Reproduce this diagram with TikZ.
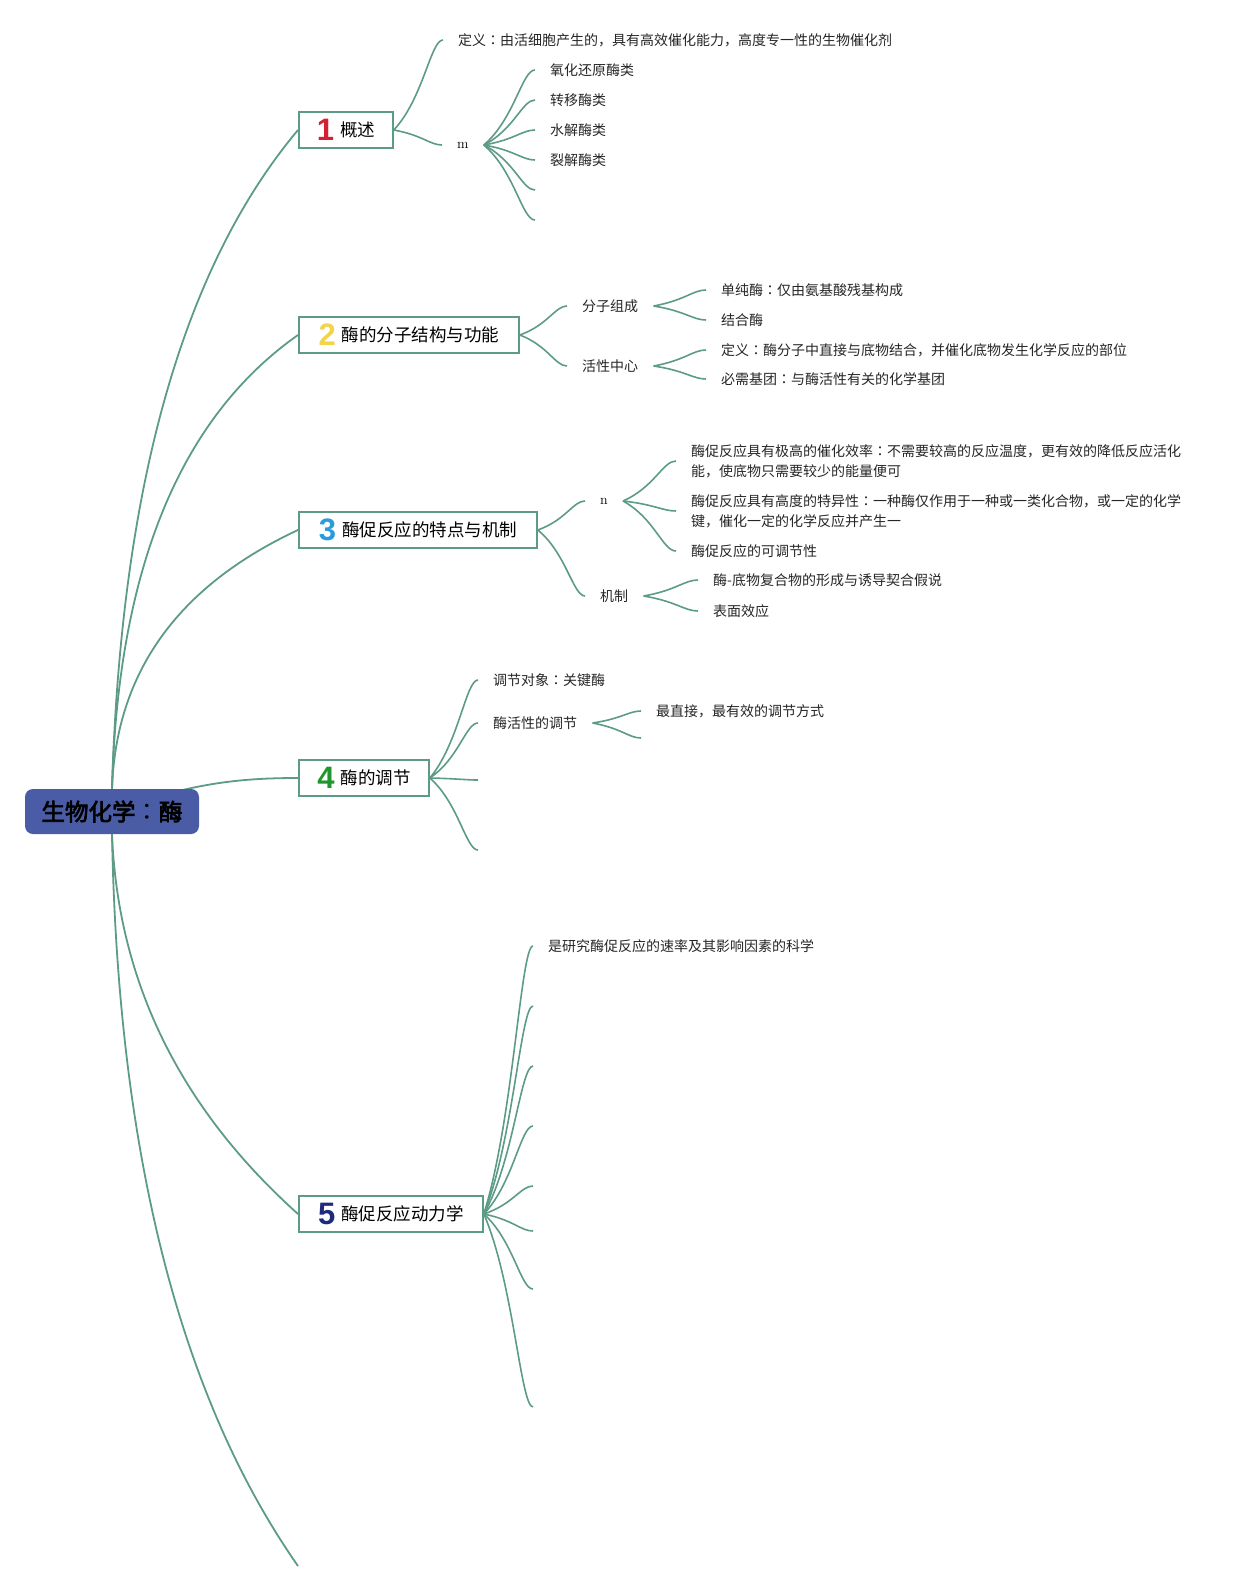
\documentclass[tikz,border=0pt]{standalone}
\usepackage{fontspec}
\newfontfamily\cjk{Noto Sans CJK SC}
\newfontfamily\cjkjp{Noto Sans CJK JP}
\newfontfamily\cjkbold{Noto Sans CJK SC}[FakeBold=3]
\newfontfamily\numfont{Liberation Sans}
\usetikzlibrary{calc,backgrounds}
\definecolor{linecol}{HTML}{5C9B85}
\definecolor{rootfill}{HTML}{4A5CA6}
\definecolor{numA}{HTML}{D51F35}
\definecolor{numB}{HTML}{F3D34A}
\definecolor{numC}{HTML}{2B9CDB}
\definecolor{numD}{HTML}{22962E}
\definecolor{numE}{HTML}{1F2A7C}
\newcommand{\topicnum}[2]{\smash{\raisebox{-4pt}{\numfont\bfseries\fontsize{31}{31}\selectfont\color{#1}#2}}\hspace{6pt}}
\newcommand{\jcolon}{{\cjkjp ：}}
\tikzset{
  rootbox/.style={fill=rootfill,rounded corners=8pt,minimum width=174pt,minimum height=45pt,inner sep=0pt,font=\cjkbold\fontsize{23.5}{26}\selectfont},
  topic/.style={draw=linecol,line width=1.8pt,fill=white,anchor=west,minimum height=36pt,inner xsep=0pt,font=\cjk\fontsize{17.5}{20}\selectfont},
  leaf/.style={anchor=west,inner xsep=15pt,inner ysep=2pt,align=left,text=black!85,font=\cjk\fontsize{14}{20}\selectfont},
  knot/.style={leaf,text=black,font=\rmfamily\fontsize{14}{16}\selectfont},
  trunk/.style={draw=linecol,line width=1.8pt},
  twig/.style={draw=linecol,line width=1.6pt,
    to path={let \p1=(\tikztostart),\p2=(\tikztotarget) in
      .. controls ({\x1+0.6*(\x2-\x1)},{\y1+0.35*(\y2-\y1)}) and ({\x2-0.25*(\x2-\x1)},\y2) .. (\tikztotarget)}}
}
\begin{document}
\begin{tikzpicture}[x=1pt,y=1pt]
  \useasboundingbox (0,0) rectangle (1248,-1593);
  % Root
  \node[rootbox] (root) at (112,-811.5) {生物化学\jcolon 酶};

  % Topic 1
  \node[topic,minimum width=94pt] (t1) at (298,-130) {\topicnum{numA}{1}概述};
  \node[leaf] (d1) at (443,-40) {定义\jcolon 由活细胞产生的，具有高效催化能力，高度专一性的生物催化剂};
  \node[knot] (m1) at (442,-145) {m};
  \node[leaf] (m1a) at (535,-70) {氧化还原酶类};
  \node[leaf] (m1b) at (535,-100) {转移酶类};
  \node[leaf] (m1c) at (535,-130) {水解酶类};
  \node[leaf] (m1d) at (535,-160) {裂解酶类};
  \coordinate (m1e) at (535,-190);
  \coordinate (m1f) at (535,-220);
  \draw[twig] (t1.east) to (d1.west) (t1.east) to (m1.west);
  \foreach \s in {m1a.west,m1b.west,m1c.west,m1d.west,m1e,m1f}
    \draw[twig] (m1.east) to (\s);

  % Topic 2
  \node[topic,minimum width=220pt] (t2) at (298,-335) {\topicnum{numB}{2}酶的分子结构与功能};
  \node[leaf] (k21) at (567,-306) {分子组成};
  \node[leaf] (k22) at (567,-366) {活性中心};
  \node[leaf] (k21a) at (706,-290) {单纯酶\jcolon 仅由氨基酸残基构成};
  \node[leaf] (k21b) at (706,-320) {结合酶};
  \node[leaf] (k22a) at (706,-350) {定义\jcolon 酶分子中直接与底物结合，并催化底物发生化学反应的部位};
  \node[leaf] (k22b) at (706,-379) {必需基团\jcolon 与酶活性有关的化学基团};
  \draw[twig] (t2.east) to (k21.west) (t2.east) to (k22.west);
  \draw[twig] (k21.east) to (k21a.west) (k21.east) to (k21b.west);
  \draw[twig] (k22.east) to (k22a.west) (k22.east) to (k22b.west);

  % Topic 3
  \node[topic,minimum width=238pt] (t3) at (298,-530) {\topicnum{numC}{3}酶促反应的特点与机制};
  \node[knot] (n3) at (585,-501) {n};
  \node[leaf] (k32) at (585,-596) {机制};
  \node[leaf] (n3a) at (676,-461) {酶促反应具有极高的催化效率\jcolon 不需要较高的反应温度，更有效的降低反应活化\\能，使底物只需要较少的能量便可};
  \node[leaf] (n3b) at (676,-511) {酶促反应具有高度的特异性\jcolon 一种酶仅作用于一种或一类化合物，或一定的化学\\键，催化一定的化学反应并产生一};
  \node[leaf] (n3c) at (676,-551) {酶促反应的可调节性};
  \node[leaf] (k32a) at (698,-580) {酶-底物复合物的形成与诱导契合假说};
  \node[leaf] (k32b) at (698,-611) {表面效应};
  \draw[twig] (t3.east) to (n3.west) (t3.east) to (k32.west);
  \foreach \s in {n3a,n3b,n3c}
    \draw[twig] (n3.east) to (\s.west);
  \draw[twig] (k32.east) to (k32a.west) (k32.east) to (k32b.west);

  % Topic 4
  \node[topic,minimum width=130pt] (t4) at (298,-778) {\topicnum{numD}{4}酶的调节};
  \node[leaf] (k41) at (478,-680) {调节对象\jcolon 关键酶};
  \node[leaf] (k42) at (478,-723) {酶活性的调节};
  \node[leaf] (k42a) at (641,-711) {最直接，最有效的调节方式};
  \coordinate (k42b) at (641,-738);
  \coordinate (k43) at (478,-780);
  \coordinate (k44) at (478,-850);
  \draw[twig] (t4.east) to (k41.west) (t4.east) to (k42.west);
  \draw[twig] (t4.east) to (k43) (t4.east) to (k44);
  \draw[twig] (k42.east) to (k42a.west) (k42.east) to (k42b);

  % Topic 5
  \node[topic,minimum width=184pt] (t5) at (298,-1214) {\topicnum{numE}{5}酶促反应动力学};
  \node[leaf] (k51) at (533,-946) {是研究酶促反应的速率及其影响因素的科学};
  \foreach \yy [count=\i] in {1006,1066,1126,1186,1231,1289,1407}
    \coordinate (e5\i) at (533,-\yy);
  \draw[twig] (t5.east) to (k51.west);
  \foreach \i in {1,...,7}
    \draw[twig] (t5.east) to (e5\i);

  % Loose end
  \coordinate (tail) at (298,-1566);

  % Trunk lines from the root
  \begin{scope}[on background layer]
    \draw[trunk] (root.north) .. controls (121,-486) and (183,-267) .. (t1.west);
    \draw[trunk] (root.north) .. controls (118,-569) and (180,-418) .. (t2.west);
    \draw[trunk] (root.north) .. controls (116,-672) and (178,-586) .. (t3.west);
    \draw[trunk] (root.center) .. controls (190,-783) and (240,-778) .. (t4.west);
    \draw[trunk] (root.south) .. controls (118,-982) and (180,-1108) .. (t5.west);
    \draw[trunk] (root.south) .. controls (118,-1154) and (180,-1397) .. (tail);
  \end{scope}
\end{tikzpicture}
\end{document}
